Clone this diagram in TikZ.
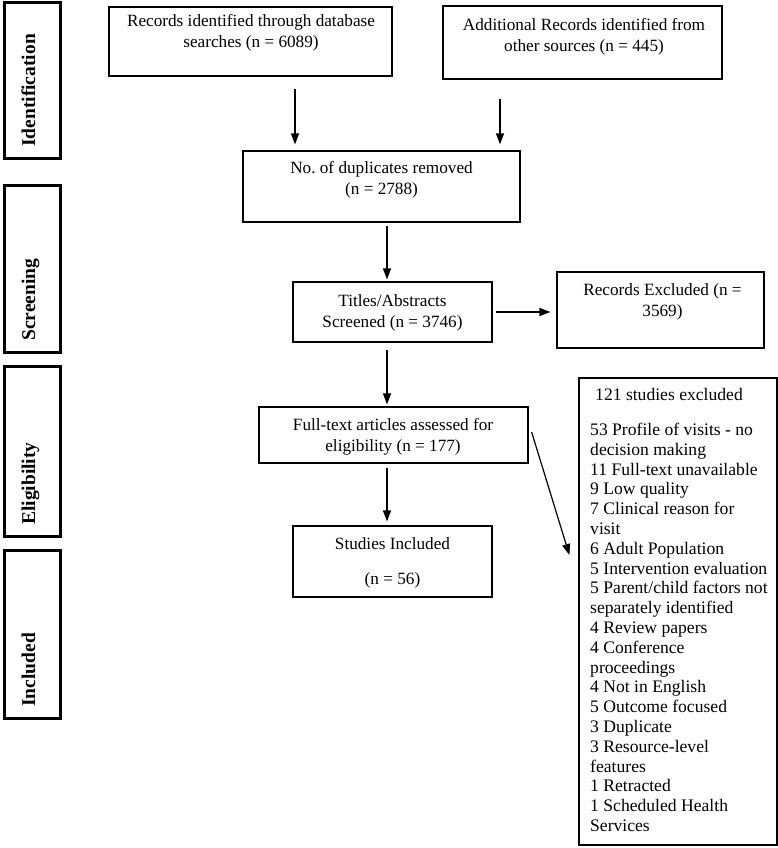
\documentclass[tikz,border=0pt]{standalone}
\usepackage{fontspec}
\setmainfont{Liberation Serif}
\usetikzlibrary{arrows.meta}
\begin{document}
\begin{tikzpicture}[x=1pt,y=-1pt,
  box/.style={draw=black, line width=1.2pt, inner sep=0pt},
  side/.style={draw=black, line width=3pt, inner sep=0pt, minimum width=56pt},
  txt/.style={align=center, font=\fontsize{17.2}{21}\selectfont, inner sep=0pt},
  lab/.style={rotate=90, anchor=base west, font=\fontsize{19.5}{22}\selectfont\bfseries, inner sep=0pt},
  arr/.style={line width=1.2pt, -{Triangle[length=11pt,width=8pt]}}]
\useasboundingbox[fill=white] (0,0) rectangle (778,848);

% phase boxes
\node[side, minimum height=155pt] (s1) at (32,80.5) {};
\node[side, minimum height=167pt] (s2) at (32,268.5) {};
\node[side, minimum height=170pt] (s3) at (32,451) {};
\node[side, minimum height=168pt] (s4) at (32,634) {};
\node[lab] (l1) at (35,147) {Identification};
\node[lab] (l2) at (35,341) {Screening};
\node[lab] (l3) at (35,525) {Eligibility};
\node[lab] (l4) at (35,707) {Included};

% flow boxes
\node[box, minimum width=283pt, minimum height=69pt] (b1) at (250.5,41.5) {};
\node[box, minimum width=279pt, minimum height=73pt] (b2) at (582.5,42.5) {};
\node[box, minimum width=277pt, minimum height=71pt] (b3) at (381.5,186.5) {};
\node[box, minimum width=199pt, minimum height=60pt] (b4) at (392.5,312) {};
\node[box, minimum width=207pt, minimum height=76pt] (rex) at (660.5,310) {};
\node[box, minimum width=269pt, minimum height=56pt] (b5) at (393.5,435) {};
\node[box, minimum width=199pt, minimum height=71pt] (b6) at (392.5,561.5) {};
\node[box, minimum width=198pt, minimum height=467pt] (exl) at (678,611.5) {};

% texts
\node[txt] (t1) at (251,32.5) {Records identified through database\\searches (n = 6089)};
\node[txt] (t2) at (584,36.5) {Additional Records identified from\\other sources (n = 445)};
\node[txt] (t3) at (381.5,180) {No.\ of duplicates removed\\(n = 2788)};
\node[txt] (t4) at (392.5,313) {Titles/Abstracts\\Screened (n = 3746)};
\node[txt] (t5) at (393,436.5) {Full-text articles assessed for\\eligibility (n = 177)};
\node[txt] (t6) at (392.5,562.5) {Studies Included\\[14pt](n = 56)};
\node[txt] (t7) at (662.5,302) {Records Excluded (n =\\3569)};
\node[anchor=north west, align=left, inner sep=0pt, font=\fontsize{17.6}{19.8}\selectfont] (tl) at (590,388) {%
\hspace*{5pt}121 studies excluded\\[15.2pt]
53 Profile of visits - no\\
decision making\\
11 Full-text unavailable\\
9 Low quality\\
7 Clinical reason for\\
visit\\
6 Adult Population\\
5 Intervention evaluation\\
5 Parent/child factors not\\
separately identified\\
4 Review papers\\
4 Conference\\
proceedings\\
4 Not in English\\
5 Outcome focused\\
3 Duplicate\\
3 Resource-level\\
features\\
1 Retracted\\
1 Scheduled Health\\
Services};

% connectors
\draw[arr] ([xshift=44.5pt,yshift=-12pt]b1.south) -- ([xshift=-86.5pt,yshift=6pt]b3.north);
\draw[arr] ([xshift=-82.5pt,yshift=-19pt]b2.south) -- ([xshift=118.5pt,yshift=6pt]b3.north);
\draw[arr] ([xshift=5.5pt,yshift=-3pt]b3.south) -- ([xshift=-5.5pt,yshift=2pt]b4.north);
\draw[arr] ([xshift=3pt]b4.east) -- ([xshift=-6pt,yshift=-2pt]rex.west);
\draw[arr] ([xshift=-5.5pt,yshift=-7pt]b4.south) -- ([xshift=-6.5pt,yshift=2pt]b5.north);
\draw[arr] ([xshift=-6.5pt,yshift=-4pt]b5.south) -- ([xshift=-5.5pt,yshift=4pt]b6.north);
\draw[arr] ([xshift=3pt,yshift=3pt]b5.east) -- ([xshift=-9pt,yshift=56.5pt]exl.west);
\end{tikzpicture}
\end{document}
